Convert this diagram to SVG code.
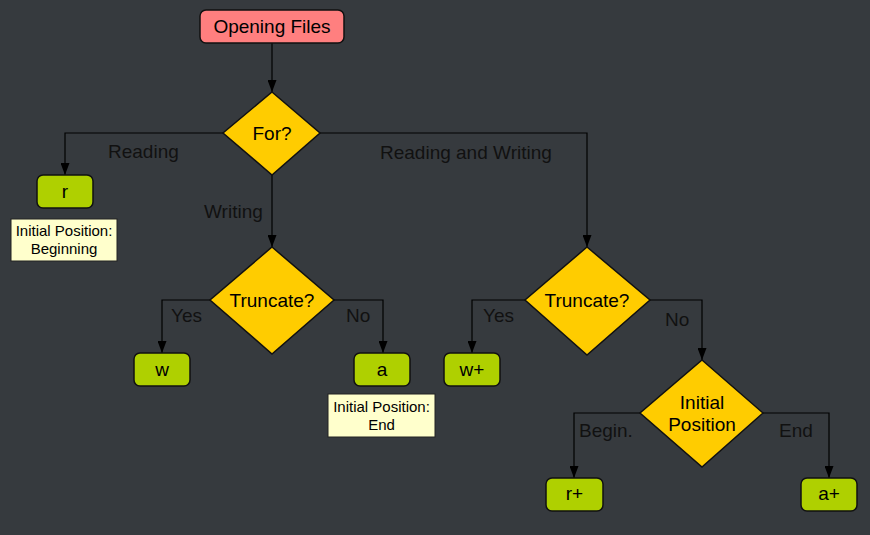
<svg xmlns="http://www.w3.org/2000/svg" width="870" height="535" viewBox="0 0 870 535">
<style>
  .bg{fill:#363a3e}
  .start{fill:#ff7f7f;stroke:#111;stroke-width:1.5}
  .op{fill:#afd000;stroke:#111;stroke-width:1.5}
  .dec{fill:#ffcc00;stroke:#111;stroke-width:1.5}
  .note{fill:#ffffcc;stroke:#222;stroke-width:1}
  .t{font-family:"Liberation Sans",Arial,sans-serif;font-size:19px;fill:#000;text-anchor:middle}
  .n{font-family:"Liberation Sans",Arial,sans-serif;font-size:15px;fill:#000;text-anchor:middle}
  .lbl{font-family:"Liberation Sans",Arial,sans-serif;font-size:19px;fill:#111}
  .c{fill:none;stroke:#000;stroke-width:1.2}
</style>
<defs>
  <marker id="arr" markerUnits="userSpaceOnUse" markerWidth="9" markerHeight="13" refX="4.5" refY="12" orient="0" viewBox="0 0 9 13">
    <path d="M0,0 L4.5,12 L9,0 Z" fill="#000"/>
  </marker>
</defs>
<rect class="bg" x="0" y="0" width="870" height="535"/>
<g id="connectors">
  <path class="c" d="M272,43 V92" marker-end="url(#arr)"/>
  <path class="c" d="M223,133 H65 V175" marker-end="url(#arr)"/>
  <path class="c" d="M272,175 V247" marker-end="url(#arr)"/>
  <path class="c" d="M320,133 H587 V247" marker-end="url(#arr)"/>
  <path class="c" d="M210,300 H162 V353" marker-end="url(#arr)"/>
  <path class="c" d="M334,300 H383 V353" marker-end="url(#arr)"/>
  <path class="c" d="M525,300 H472 V353" marker-end="url(#arr)"/>
  <path class="c" d="M650,300 H702 V360" marker-end="url(#arr)"/>
  <path class="c" d="M640,413 H574 V478" marker-end="url(#arr)"/>
  <path class="c" d="M763,413 H829 V478" marker-end="url(#arr)"/>
  <text class="lbl" x="108" y="158">Reading</text>
  <text class="lbl" x="204" y="218">Writing</text>
  <text class="lbl" x="380" y="159">Reading and Writing</text>
  <text class="lbl" x="171" y="322">Yes</text>
  <text class="lbl" x="346" y="322">No</text>
  <text class="lbl" x="483" y="322">Yes</text>
  <text class="lbl" x="665" y="326">No</text>
  <text class="lbl" x="579" y="437">Begin.</text>
  <text class="lbl" x="779" y="437">End</text>
</g>
<g id="start">
  <rect class="start" x="200" y="10" width="144" height="33" rx="6"/>
  <text class="t" x="272" y="33">Opening Files</text>
</g>
<g id="for">
  <polygon class="dec" points="272,92 320,133 272,175 223,133"/>
  <text class="t" x="272" y="140">For?</text>
</g>
<g id="r">
  <rect class="op" x="37" y="175" width="56" height="33" rx="6"/>
  <text class="t" x="65" y="198">r</text>
</g>
<g id="note-r">
  <rect class="note" x="11" y="219" width="106" height="42"/>
  <text class="n" x="64" y="236">Initial Position:</text>
  <text class="n" x="64" y="254">Beginning</text>
</g>
<g id="truncate-w">
  <polygon class="dec" points="272,247 334,300 272,354 210,300"/>
  <text class="t" x="272" y="307">Truncate?</text>
</g>
<g id="w">
  <rect class="op" x="134" y="353" width="56" height="33" rx="6"/>
  <text class="t" x="162" y="376">w</text>
</g>
<g id="a">
  <rect class="op" x="354" y="353" width="56" height="33" rx="6"/>
  <text class="t" x="382" y="376">a</text>
</g>
<g id="note-a">
  <rect class="note" x="328" y="394" width="107" height="43"/>
  <text class="n" x="381.5" y="412">Initial Position:</text>
  <text class="n" x="381.5" y="430">End</text>
</g>
<g id="truncate-rw">
  <polygon class="dec" points="587,247 650,300 587,355 525,300"/>
  <text class="t" x="587" y="307">Truncate?</text>
</g>
<g id="wplus">
  <rect class="op" x="444" y="353" width="56" height="33" rx="6"/>
  <text class="t" x="472" y="376">w+</text>
</g>
<g id="initial-position">
  <polygon class="dec" points="702,360 763,413 702,467 640,413"/>
  <text class="t" x="702" y="409">Initial</text>
  <text class="t" x="702" y="431">Position</text>
</g>
<g id="rplus">
  <rect class="op" x="546" y="478" width="57" height="33" rx="6"/>
  <text class="t" x="574.5" y="500">r+</text>
</g>
<g id="aplus">
  <rect class="op" x="801" y="478" width="56" height="33" rx="6"/>
  <text class="t" x="829" y="500">a+</text>
</g>
</svg>
